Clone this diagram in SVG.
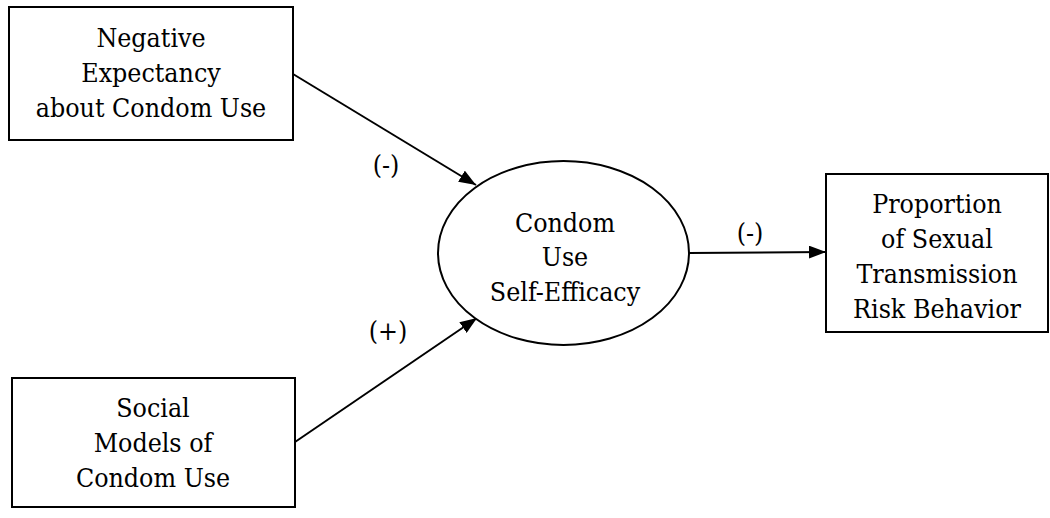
<svg xmlns="http://www.w3.org/2000/svg" width="1050" height="518" viewBox="0 0 1050 518">
<style>
.box{fill:#fff;stroke:#000;stroke-width:2}
.t{font-family:'DejaVu Serif Condensed','DejaVu Serif',serif;font-stretch:condensed;font-size:26.5px;fill:#000;text-anchor:middle}
.c{stroke:#000;stroke-width:2;fill:none;marker-end:url(#ah)}
</style>
<defs>
<marker id="ah" viewBox="0 0 17 13" refX="17" refY="6.5" markerWidth="17" markerHeight="13" markerUnits="userSpaceOnUse" orient="auto">
<path d="M0,0 L17,6.5 L0,13 z" fill="#000"/>
</marker>
</defs>
<rect width="1050" height="518" fill="#fff"/>
<g id="connectors">
<line class="c" x1="293" y1="74" x2="476" y2="185"/>
<line class="c" x1="295" y1="442" x2="477" y2="318"/>
<line class="c" x1="689" y1="253" x2="826" y2="252"/>
<text class="t" x="386" y="174">(-)</text>
<text class="t" x="388" y="340">(+)</text>
<text class="t" x="750" y="242">(-)</text>
</g>
<g id="neg">
<rect class="box" x="9" y="7" width="284" height="133"/>
<text class="t" x="151" y="47">Negative</text>
<text class="t" x="151" y="82">Expectancy</text>
<text class="t" x="151" y="117">about Condom Use</text>
</g>
<g id="social">
<rect class="box" x="12" y="378" width="283" height="129"/>
<text class="t" x="153" y="417">Social</text>
<text class="t" x="153" y="452">Models of</text>
<text class="t" x="153" y="487">Condom Use</text>
</g>
<g id="efficacy">
<ellipse class="box" cx="563.5" cy="253" rx="125.5" ry="92"/>
<text class="t" x="565" y="232">Condom</text>
<text class="t" x="565" y="266">Use</text>
<text class="t" x="565" y="301">Self-Efficacy</text>
</g>
<g id="proportion">
<rect class="box" x="826" y="174" width="222" height="158"/>
<text class="t" x="937" y="213">Proportion</text>
<text class="t" x="937" y="248">of Sexual</text>
<text class="t" x="937" y="283">Transmission</text>
<text class="t" x="937" y="318">Risk Behavior</text>
</g>
</svg>
